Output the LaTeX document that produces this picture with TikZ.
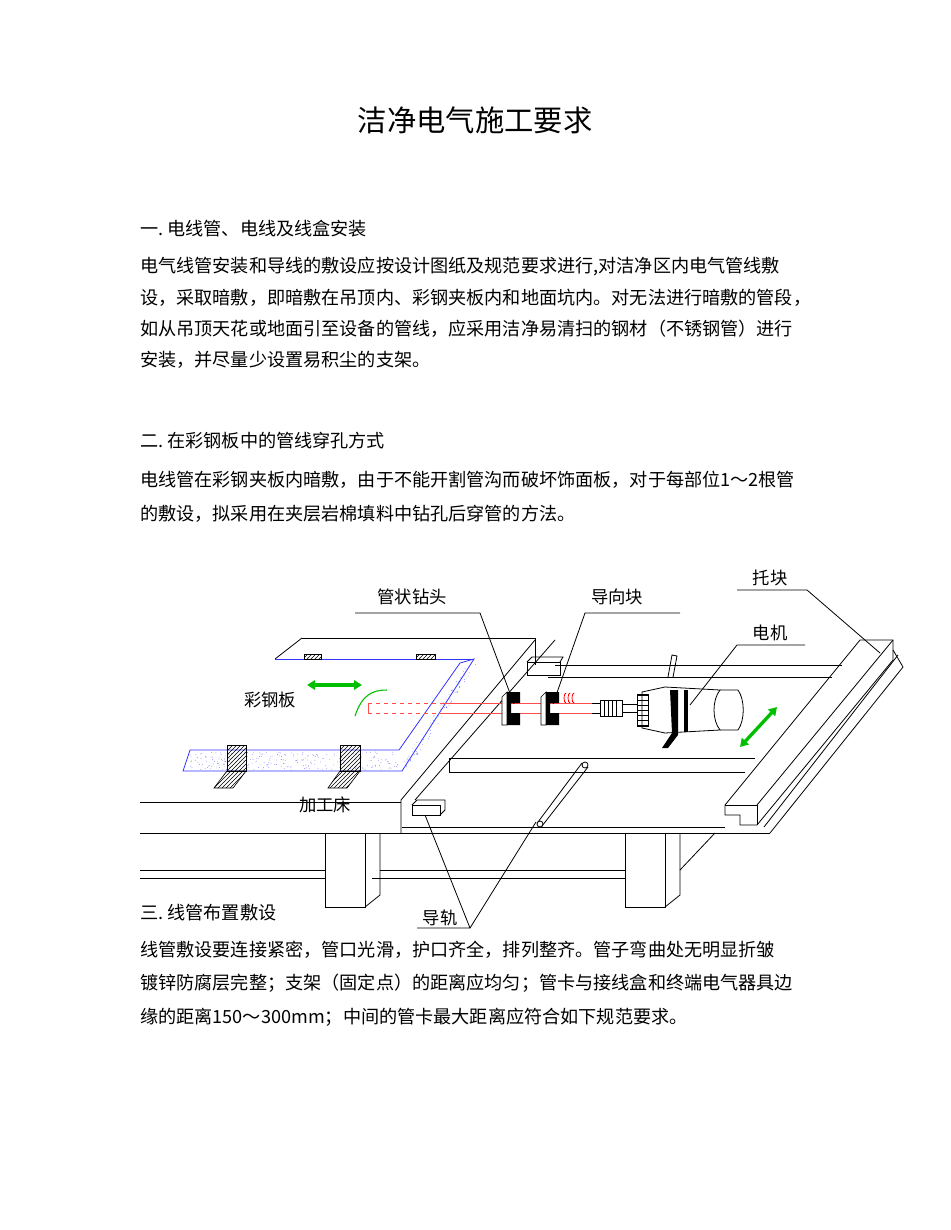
\documentclass[tikz,border=0pt]{standalone}
\usepackage{fontspec}
\setmainfont{Liberation Serif}
\newfontfamily\cjk{Noto Sans CJK SC}
\usetikzlibrary{patterns,arrows.meta}
\begin{document}
\begin{tikzpicture}[x=0.75pt,y=-0.75pt,
 body/.style={anchor=west,inner sep=0,font=\cjk\fontsize{13.6pt}{14pt}\selectfont},
 lbl/.style={inner sep=0,font=\cjk\fontsize{13pt}{14pt}\selectfont},
 ln/.style={line width=0.6pt},
 hatch/.style={draw,pattern=north east lines,line width=0.5pt},
 garrow/.style={{Triangle[width=7pt,length=6pt]}-{Triangle[width=7pt,length=6pt]},green!75!black,line width=2.5pt}]
\useasboundingbox (0,0) rectangle (950,1230);
\fill[white] (0,0) rectangle (950,1230);
\node[inner sep=0,font=\cjk\fontsize{22pt}{24pt}\selectfont] (title) at (475,120) {洁净电气施工要求};
\node[body] (l1) at (140,229) {一.\ 电线管、电线及线盒安装};
\node[body] (l2) at (140,267) {电气线管安装和导线的敷设应按设计图纸及规范要求进行,对洁净区内电气管线敷};
\node[body] (l3) at (140,298) {设，采取暗敷，即暗敷在吊顶内、彩钢夹板内和地面坑内。对无法进行暗敷的管段，};
\node[body] (l4) at (140,329) {如从吊顶天花或地面引至设备的管线，应采用洁净易清扫的钢材（不锈钢管）进行};
\node[body] (l5) at (140,360) {安装，并尽量少设置易积尘的支架。};
\node[body] (l6) at (140,441) {二.\ 在彩钢板中的管线穿孔方式};
\node[body] (l7) at (140,480) {电线管在彩钢夹板内暗敷，由于不能开割管沟而破坏饰面板，对于每部位1～2根管};
\node[body] (l8) at (140,514) {的敷设，拟采用在夹层岩棉填料中钻孔后穿管的方法。};
\node[body] (l9) at (140,913) {三.\ 线管布置敷设};
\node[body] (l10) at (140,950) {线管敷设要连接紧密，管口光滑，护口齐全，排列整齐。管子弯曲处无明显折皱};
\node[body] (l11) at (140,983) {镀锌防腐层完整；支架（固定点）的距离应均匀；管卡与接线盒和终端电气器具边};
\node[body] (l12) at (140,1017) {缘的距离150～300mm；中间的管卡最大距离应符合如下规范要求。};
% ---- machine bed
\begin{scope}[ln]
\draw (140,802) -- (401,802);
\draw (140,833) -- (770,833);
\draw (302,638) -- (535,638) -- (535,665);
\draw (302,638) -- (275,659);
\draw (535,640) -- (401,800) -- (401,833);
\draw (402,827) -- (725,827);
\draw (415,800) -- (555,640);
% legs
\draw (325,833) -- (325,907) -- (365,907) -- (365,833);
\draw (365,907) -- (380,895) -- (380,833);
\draw (625,833) -- (625,907) -- (665,907) -- (665,833);
\draw (665,907) -- (680,895) -- (680,833);
\draw (680,870) -- (715,833);
\draw (140,870) -- (325,870); \draw (140,878) -- (325,878);
\draw (380,870) -- (625,870); \draw (372,878) -- (625,878);
% rear rail
\draw (555,665) -- (842,665); \draw (548,677) -- (832,677);
\draw (668,677) -- (672,655) -- (677,656) -- (673,677);
\draw (527,662) rectangle (560,675); \draw (527,662) -- (532,657) -- (563,657) -- (560,662);
% front rail
\draw (449,758) -- (755,758); \draw (449,772) -- (745,772); \draw (449,758) -- (449,772);
% rod
\draw (582,763) -- (538,822); \draw (588,767) -- (542,826);
\draw (585,765) circle (3); \draw (540,824) circle (3);
% front block
\draw (412,805) rectangle (440,815); \draw (412,805) -- (417,800) -- (445,800) -- (445,810) -- (440,815);
% right rail
\draw (725,805) -- (860,640) -- (893,640) -- (893,660) -- (757,825) -- (740,825) -- (740,815) -- (725,815) -- cycle;
\draw (757,805) -- (893,640);
\draw (725,805) -- (757,805) -- (757,825);
\draw (893,650) -- (903,667) -- (770,833);
\draw (898,655) -- (764,827);
\end{scope}
% steel panel
\draw[blue!80,line width=0.6pt,fill=white] (183,771) -- (190,750) -- (399,750) -- (460,663) -- (474,659) -- (402,771) -- cycle;
\draw[blue!80,line width=0.6pt] (275,659) -- (474,659);
\pgfmathsetseed{7}
\foreach \i in {1,...,260}{\fill[blue!70] ({190+rnd*208},{752+rnd*18}) circle (0.35);}
\foreach \i in {1,...,90}{\pgfmathsetmacro{\t}{rnd}\fill[blue!70] ({400+\t*66+rnd*10},{768-\t*104}) circle (0.35);}
\draw[hatch] (304,654) rectangle (321,659);
\draw[hatch] (416,654) rectangle (435,659);
\draw[hatch] (227,745) rectangle (246,771);
\draw[hatch] (227,771) -- (246,771) -- (233,788) -- (214,788) -- cycle;
\draw[hatch] (340,745) rectangle (360,771);
\draw[hatch] (340,771) -- (360,771) -- (347,788) -- (328,788) -- cycle;
% green arrows
\draw[garrow] (307,685) -- (362,685);
\draw[garrow] (740,747) -- (777,707);
\draw[green!75!black,line width=0.8pt] (355,716) .. controls (362,695) and (372,690) .. (387,690);
% tube
\draw[red!70,line width=0.5pt,dashed] (368,703) -- (440,703); \draw[red!70,line width=0.5pt,dashed] (368,713) -- (440,713);
\draw[red!70,line width=0.5pt] (368,703) -- (368,713);
\draw[red!70,line width=0.5pt] (440,703) -- (592,703); \draw[red!70,line width=0.5pt] (440,713) -- (592,713);
\foreach \x in {566,570,574}{\draw[red,line width=0.6pt] (\x,703) arc (90:270:2 and 5);}
% drill blocks
\foreach \x in {502,541}{
 \draw[fill=white,line width=0.5pt] (\x,697) -- (\x+5,692) -- (\x+5,725) -- (\x,725) -- cycle;
 \fill (\x+5,692) -- (\x+18,692) -- (\x+18,703) -- (\x+9,703) -- (\x+9,713) -- (\x+18,713) -- (\x+18,725) -- (\x+5,725) -- cycle;}
% chuck and motor
\draw[line width=0.5pt] (592,703) -- (600,703) (592,713) -- (600,713);
\draw[fill=white,line width=0.5pt] (600,700) rectangle (622,716);
\foreach \x in {604,608,612,616}{\draw[line width=0.3pt] (\x,700) -- (\x,716);}
\draw[line width=0.5pt] (622,704) rectangle (637,712);
\draw[fill=white,line width=0.6pt] (642,692) -- (665,687) -- (720,690) .. controls (712,700) and (712,720) .. (720,730) -- (665,733) -- (642,728) -- cycle;
\draw[line width=0.6pt] (720,690) -- (738,690) .. controls (745,700) and (745,720) .. (738,730) -- (720,730);
\foreach \y in {695,700,705,710,715,720,725}{\draw[line width=0.3pt] (637,\y) -- (648,\y);}
\draw[line width=0.6pt] (637,694) rectangle (648,726);
\fill (670,690) -- (678,690) -- (678,735) -- (668,748) -- (662,748) -- (672,733) -- cycle;
\fill (684,690) -- (688,690) -- (688,732) -- (684,732) -- cycle;
% labels and leaders
\node[lbl] (zt) at (412,597) {管状钻头};
\coordinate (zt1) at (355,613); \coordinate (zt2) at (480,613); \coordinate (zt3) at (514,704);
\draw[ln] (zt1) -- (zt2) -- (zt3);
\node[lbl] (dx) at (617,597) {导向块};
\coordinate (dx1) at (585,613); \coordinate (dx2) at (680,613); \coordinate (dx3) at (553,704);
\draw[ln] (dx2) -- (dx1) -- (dx3);
\node[lbl] (tk) at (770,578) {托块};
\coordinate (tk1) at (737,590); \coordinate (tk2) at (807,590); \coordinate (tk3) at (880,653);
\draw[ln] (tk1) -- (tk2) -- (tk3);
\node[lbl] (dj) at (770,633) {电机};
\coordinate (dj1) at (737,645); \coordinate (dj2) at (805,645); \coordinate (dj3) at (690,705);
\draw[ln] (dj2) -- (dj1) -- (dj3);
\node[lbl] (cgb) at (270,700) {彩钢板};
\node[lbl] (jgc) at (325,805) {加工床};
\node[lbl] (dg) at (440,918) {导轨};
\coordinate (dg1) at (417,928); \coordinate (dg2) at (470,928); \coordinate (dg3) at (425,815); \coordinate (dg4) at (536,822);
\draw[ln] (dg1) -- (dg2) -- (dg3); \draw[ln] (dg2) -- (dg4);
\end{tikzpicture}
\end{document}
